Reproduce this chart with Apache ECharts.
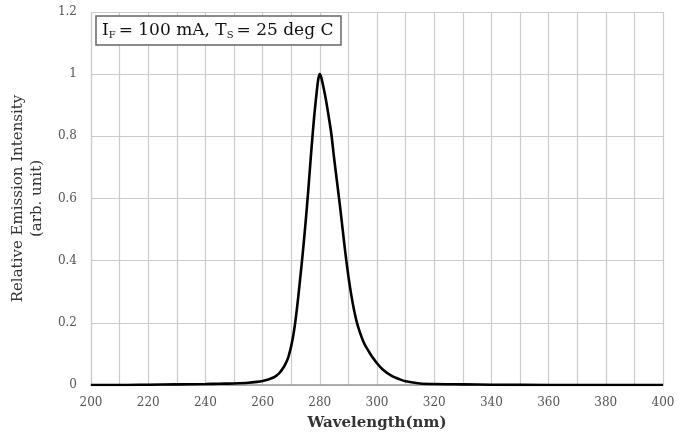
<!DOCTYPE html>
<html>
<head>
<meta charset="utf-8">
<script src="https://cdn.jsdelivr.net/npm/echarts@6/dist/echarts.min.js"></script>
<style>
  html, body { margin: 0; padding: 0; background: #fff; }
  #chart_Spectrum_Main { width: 693px; height: 437px; }
</style>
</head>
<body>
<div id="chart_Spectrum_Main"></div>
<script>
// wavelength (nm) and relative intensity
var wavelengths = [200, 210, 220, 230, 240, 245, 250, 255, 258, 260, 262, 264, 265, 266, 267, 268, 269, 270,
    271, 272, 273, 274, 275, 276, 277, 278, 279, 279.5, 280, 280.5, 281, 282, 283, 284, 285, 286, 287, 288, 289, 290,
    291, 292, 293, 294, 295, 296, 297, 298, 300, 302, 305, 308, 310, 315, 320, 330, 340, 360, 380, 400];
var intensity = [0, 0, 0.001, 0.002, 0.003, 0.004, 0.005, 0.007, 0.01, 0.013, 0.018, 0.025, 0.031, 0.04, 0.052, 0.068, 0.09, 0.125,
    0.175, 0.245, 0.33, 0.42, 0.52, 0.63, 0.75, 0.86, 0.95, 0.985, 1.0, 0.99, 0.97, 0.925, 0.87, 0.81, 0.73, 0.655, 0.58, 0.5, 0.42, 0.35,
    0.29, 0.24, 0.2, 0.17, 0.145, 0.125, 0.11, 0.095, 0.07, 0.05, 0.03, 0.018, 0.012, 0.005, 0.003, 0.002, 0.001, 0, 0, 0];
var xTicks = { min: 200, max: 400, step: 20 };
var yTicks = { min: 0, max: 1.2, step: 0.2 };

var chart_Spectrum_Main = echarts.init(document.getElementById('chart_Spectrum_Main'));

var data = [];
for (var i = 0; i < wavelengths.length; i++) {
    data.push([wavelengths[i], intensity[i]]);
}

var serif = '"DejaVu Serif", "Liberation Serif", serif';
var gridColor = '#cbcbcb';

option = {
    animation: false,
    title: {
        text: '{n|I}{s|F}{n|= 100 mA, T}{s|S}{n|= 25 deg C}',
        left: 96,
        top: 15,
        padding: [6, 8, 5, 6],
        borderColor: '#666',
        borderWidth: 1.5,
        backgroundColor: '#fff',
        textStyle: {
            fontWeight: 'normal',
            rich: {
                n: { fontFamily: serif, fontSize: 17, fontWeight: 'normal', color: '#111' },
                s: { fontFamily: serif, fontSize: 10, fontWeight: 'normal', color: '#111', padding: [9, 3, 0, 0] }
            }
        }
    },
    grid: {
        left: 91,
        right: 30,
        top: 12,
        bottom: 52,
        containLabel: false,
        outerBoundsMode: 'none'
    },
    xAxis: {
        type: 'value',
        min: xTicks.min,
        max: xTicks.max,
        interval: xTicks.step,
        name: 'Wavelength(nm)',
        nameLocation: 'middle',
        nameGap: 31,
        nameTextStyle: { fontFamily: serif, fontSize: 15, fontWeight: 'bold', color: '#333' },
        axisLine: { lineStyle: { color: '#999', width: 1.5 } },
        axisTick: { show: false },
        axisLabel: { fontFamily: serif, fontSize: 12, color: '#555', margin: 12 },
        splitLine: { show: true, lineStyle: { color: gridColor, width: 1.2 } },
        minorTick: { show: false, splitNumber: 2 },
        minorSplitLine: { show: true, lineStyle: { color: gridColor, width: 1.2 } }
    },
    yAxis: {
        type: 'value',
        min: yTicks.min,
        max: yTicks.max,
        interval: yTicks.step,
        name: 'Relative Emission Intensity\n(arb. unit)',
        nameLocation: 'middle',
        nameGap: 44,
        nameRotate: 90,
        nameTextStyle: { fontFamily: serif, fontSize: 15, color: '#333', lineHeight: 19 },
        axisLine: { show: true, lineStyle: { color: gridColor, width: 1.2 } },
        axisTick: { show: false },
        axisLabel: { fontFamily: serif, fontSize: 12, color: '#555', margin: 14 },
        splitLine: { show: true, lineStyle: { color: gridColor, width: 1.2 } }
    },
    series: [{
        name: 'Spectrum',
        type: 'line',
        data: data,
        smooth: 0.3,
        showSymbol: false,
        lineStyle: { color: '#000', width: 2.6 },
        z: 5
    }]
};

chart_Spectrum_Main.setOption(option);
</script>
</body>
</html>
